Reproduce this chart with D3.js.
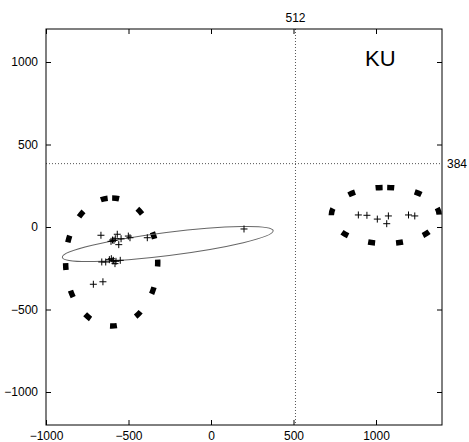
<!DOCTYPE html>
<html>
<head>
<meta charset="utf-8">
<script src="https://cdn.jsdelivr.net/npm/d3@7"></script>
<style>
  body { margin: 0; background: #fff; }
  svg text { font-family: "Liberation Sans", Arial, sans-serif; fill: #000; }
</style>
</head>
<body>
<div id="chart"></div>
<script>
// tick values
const xTicks = [-1000, -500, 0, 500, 1000]
const yTicks = [-1000, -500, 0, 500, 1000]

// reference lines
const refX = 512
const refY = 384

// observed points (+ markers), left group
const leftX = [-667, -568, -606, -588, -580, -559, -545, -501, -491, -386, 200,
  -662, -638, -616, -604, -592, -576, -550, -582, -713, -655, -597, -594]
const leftY = [-50, -44, -87, -81, -71, -107, -71, -55, -65, -65, -12,
  -212, -212, -198, -192, -202, -208, -202, -222, -347, -332, -79, -206]

// observed points (+ markers), right group
const rightX = [893, 945, 1008, 1075, 1065, 1197, 1235]
const rightY = [73, 71, 48, 67, 20, 73, 67]

// thick dashed ellipses: centre x, centre y, radius x, radius y
const bigEllCx = [-602, 1056]
const bigEllCy = [-212, 70]
const bigEllRx = [279, 327]
const bigEllRy = [388, 170]

// thin fitted ellipse: centre, semi axes, tilt (degrees)
const fitCx = -262
const fitCy = -103
const fitA = 644
const fitB = 70
const fitAngle = 7.2

const margin = { top: 29, right: 27, bottom: 18, left: 46 }
const width = 396
const height = 396

const svg = d3.select('#chart')
  .append('svg')
  .attr('width', 469)
  .attr('height', 442)

const g = svg.append('g')
  .attr('transform', `translate(${margin.left}, ${margin.top})`)

const xScale = d3.scaleLinear().domain([-1000, 1400]).range([0, width])
const yScale = d3.scaleLinear().domain([-1200, 1200]).range([height, 0])

// clip to the frame
g.append('clipPath').attr('id', 'clip')
  .append('rect').attr('width', width).attr('height', height)

// ticks on all four sides, pointing in
const tickLen = 5
const fmt = d3.format('d')
g.append('g')
  .attr('transform', `translate(0,${height})`)
  .call(d3.axisBottom(xScale).tickValues(xTicks).tickFormat(fmt).tickSizeInner(-tickLen).tickSizeOuter(0).tickPadding(6))
g.append('g')
  .call(d3.axisTop(xScale).tickValues(xTicks).tickSizeInner(-tickLen).tickSizeOuter(0).tickFormat(''))
g.append('g')
  .call(d3.axisLeft(yScale).tickValues(yTicks).tickFormat(fmt).tickSizeInner(-tickLen).tickSizeOuter(0).tickPadding(8))
g.append('g')
  .attr('transform', `translate(${width},0)`)
  .call(d3.axisRight(yScale).tickValues(yTicks).tickSizeInner(-tickLen).tickSizeOuter(0).tickFormat(''))

g.selectAll('.domain').remove()
g.selectAll('.tick line').attr('stroke', '#000')
g.selectAll('.tick text')
  .style('font-size', '12px')
  .attr('fill', '#000')

// dotted reference lines
g.append('line')
  .attr('x1', xScale(refX)).attr('x2', xScale(refX))
  .attr('y1', 0).attr('y2', height)
  .attr('stroke', '#555').attr('stroke-width', 1)
  .attr('stroke-dasharray', '1,2')
g.append('line')
  .attr('x1', 0).attr('x2', width)
  .attr('y1', yScale(refY)).attr('y2', yScale(refY))
  .attr('stroke', '#555').attr('stroke-width', 1)
  .attr('stroke-dasharray', '1,2')

g.append('text')
  .attr('x', xScale(refX))
  .attr('y', -7)
  .attr('text-anchor', 'middle')
  .style('font-size', '12px')
  .text(refX)
g.append('text')
  .attr('x', width + 5)
  .attr('y', yScale(refY) + 4)
  .style('font-size', '12px')
  .text(refY)

// thick dashed ellipses, path starts at the top and runs clockwise
const dashShift = [-0.5, -2]
const plot = g.append('g').attr('clip-path', 'url(#clip)')
bigEllCx.forEach((cx, i) => {
  const x = xScale(cx), y = yScale(bigEllCy[i])
  const rx = xScale(cx + bigEllRx[i]) - x
  const ry = y - yScale(bigEllCy[i] + bigEllRy[i])
  const d = `M${x},${y - ry} A${rx},${ry} 0 1 1 ${x},${y + ry} A${rx},${ry} 0 1 1 ${x},${y - ry}`
  plot.append('path')
    .attr('d', d)
    .attr('fill', 'none')
    .attr('stroke', '#000')
    .attr('stroke-width', 5.5)
    .attr('stroke-dasharray', '7,21')
    .attr('stroke-dashoffset', dashShift[i])
})

// thin fitted ellipse
plot.append('ellipse')
  .attr('cx', xScale(fitCx))
  .attr('cy', yScale(fitCy))
  .attr('rx', xScale(fitCx + fitA) - xScale(fitCx))
  .attr('ry', yScale(fitCy) - yScale(fitCy + fitB))
  .attr('transform', `rotate(${-fitAngle},${xScale(fitCx)},${yScale(fitCy)})`)
  .attr('fill', 'none')
  .attr('stroke', '#666')
  .attr('stroke-width', 1)

// plus markers
const cross = 'M-3.5,0H3.5M0,-3.5V3.5'
const pts = leftX.map((v, i) => [v, leftY[i]])
  .concat(rightX.map((v, i) => [v, rightY[i]]))
plot.selectAll('.pt')
  .data(pts)
  .enter()
  .append('path')
  .attr('class', 'pt')
  .attr('d', cross)
  .attr('transform', d => `translate(${xScale(d[0])},${yScale(d[1])})`)
  .attr('stroke', '#000')
  .attr('stroke-width', 1)
  .attr('fill', 'none')

// frame
g.append('rect')
  .attr('width', width)
  .attr('height', height)
  .attr('fill', 'none')
  .attr('stroke', '#000')
  .attr('stroke-width', 1)

// title inside plot
g.append('text')
  .attr('x', 319)
  .attr('y', 37)
  .style('font-size', '22px')
  .text('KU')
</script>
</body>
</html>
